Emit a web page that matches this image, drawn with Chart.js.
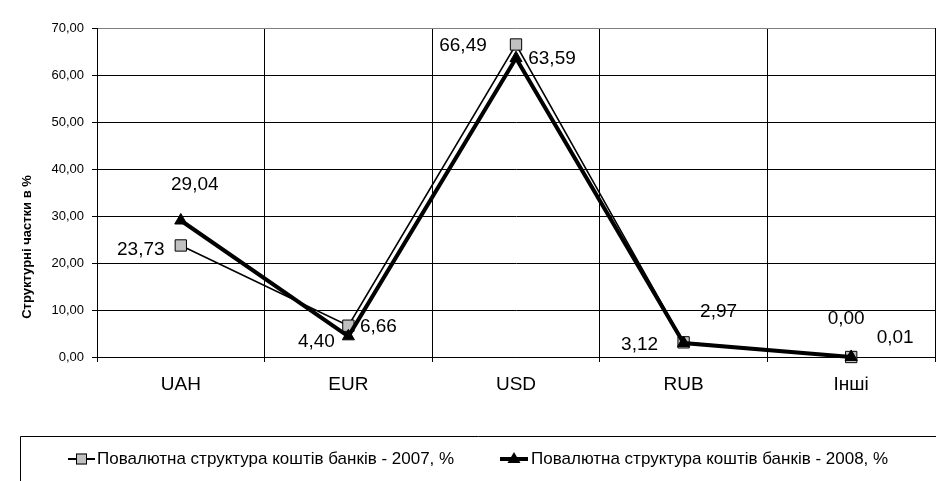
<!DOCTYPE html>
<html>
<head>
<meta charset="utf-8">
<script src="https://cdn.jsdelivr.net/npm/chart.js@4.4.1/dist/chart.umd.min.js"></script>
<style>
html,body{margin:0;padding:0;background:#fff;}
canvas{display:block;}
</style>
</head>
<body>
<canvas id="c" width="936" height="481"></canvas>
<script>
// ---- data ----
const categories = ['UAH', 'EUR', 'USD', 'RUB', 'Інші'];
const values2007 = [23.73, 6.66, 66.49, 3.12, 0.00];
const values2008 = [29.04, 4.40, 63.59, 2.97, 0.01];
const label2007 = 'Повалютна структура коштів банків - 2007, %';
const label2008 = 'Повалютна структура коштів банків - 2008, %';
const yTitle = 'Структурні частки в %';
const yMin = 0, yMax = 70, yStep = 10;

// ---- label placement (style) ----
const labelOffsets2007 = [[-40, 4], [30, 1], [-53, 1], [-44, 2], [-5, -38]];
const labelOffsets2008 = [[14, -36], [-32, 5], [36, 1], [35, -31], [44, -19]];

const FONT = 'Arial, "Liberation Sans", sans-serif';
const fmt = v => v.toFixed(2).replace('.', ',');

const decorPlugin = {
  id: 'decor',
  afterDatasetsDraw(chart) {
    const ctx = chart.ctx;
    ctx.save();
    ctx.font = '19px ' + FONT;
    ctx.fillStyle = '#000';
    ctx.textAlign = 'center';
    ctx.textBaseline = 'middle';
    const sets = [[0, values2007, labelOffsets2007], [1, values2008, labelOffsets2008]];
    sets.forEach(([di, vals, offs]) => {
      const meta = chart.getDatasetMeta(di);
      meta.data.forEach((pt, i) => {
        ctx.fillText(fmt(vals[i]), pt.x + offs[i][0], pt.y + offs[i][1]);
      });
    });
    ctx.restore();
  },
  afterDraw(chart) {
    const ctx = chart.ctx;
    ctx.save();
    // y title
    ctx.translate(27, 247);
    ctx.rotate(-Math.PI / 2);
    ctx.font = 'bold 13px ' + FONT;
    ctx.fillStyle = '#000';
    ctx.textAlign = 'center';
    ctx.textBaseline = 'middle';
    ctx.fillText(yTitle, 0, 0);
    ctx.restore();

    // legend box
    ctx.save();
    ctx.strokeStyle = '#000';
    ctx.lineWidth = 1;
    ctx.beginPath();
    ctx.moveTo(20.5, 481);
    ctx.lineTo(20.5, 436.5);
    ctx.lineTo(936, 436.5);
    ctx.stroke();

    const ly = 459;
    // item 1
    ctx.lineWidth = 2;
    ctx.beginPath();
    ctx.moveTo(68, ly); ctx.lineTo(95, ly); ctx.stroke();
    ctx.fillStyle = '#c0c0c0';
    ctx.lineWidth = 1;
    ctx.fillRect(76, ly - 5.5, 11, 11);
    ctx.strokeRect(76.5, ly - 5, 10, 10);
    // item 2
    ctx.lineWidth = 4;
    ctx.beginPath();
    ctx.moveTo(500, ly); ctx.lineTo(528, ly); ctx.stroke();
    ctx.fillStyle = '#000';
    ctx.beginPath();
    ctx.moveTo(514, ly - 7); ctx.lineTo(520.5, ly + 4); ctx.lineTo(507.5, ly + 4); ctx.closePath();
    ctx.fill();

    ctx.font = '17px ' + FONT;
    ctx.fillStyle = '#000';
    ctx.textAlign = 'left';
    ctx.textBaseline = 'middle';
    ctx.fillText(label2007, 97, ly);
    ctx.fillText(label2008, 531, ly);
    ctx.restore();
  }
};

new Chart(document.getElementById('c'), {
  type: 'line',
  data: {
    labels: categories,
    datasets: [
      {
        label: label2007,
        data: values2007,
        borderColor: '#000',
        borderWidth: 1.6,
        pointStyle: 'rect',
        pointRadius: 8,
        pointBackgroundColor: '#c0c0c0',
        pointBorderColor: '#000',
        pointBorderWidth: 1,
        tension: 0,
        clip: false,
        order: 2
      },
      {
        label: label2008,
        data: values2008,
        borderColor: '#000',
        borderWidth: 4,
        pointStyle: 'triangle',
        pointRadius: 7,
        pointBackgroundColor: '#000',
        pointBorderColor: '#000',
        pointBorderWidth: 1,
        tension: 0,
        clip: false,
        order: 1
      }
    ]
  },
  options: {
    responsive: false,
    animation: false,
    devicePixelRatio: 1,
    layout: { autoPadding: false, padding: { top: 28, left: 0, right: 1, bottom: 44 } },
    plugins: { legend: { display: false }, tooltip: { enabled: false } },
    scales: {
      x: {
        offset: true,
        grid: { offset: true, color: '#000', lineWidth: 1, tickLength: 5, tickColor: '#000' },
        border: { color: '#000', width: 1 },
        ticks: { color: '#000', font: { family: FONT, size: 19 }, padding: 11 },
        afterFit(scale) { scale.height = 80; }
      },
      y: {
        min: yMin, max: yMax,
        grid: {
          color: ctx => (ctx.tick && ctx.tick.value === yMax) ? '#808080' : '#000',
          tickColor: '#000',
          lineWidth: 1, tickLength: 5
        },
        border: { color: '#000', width: 1 },
        ticks: {
          stepSize: yStep,
          color: '#000',
          font: { family: FONT, size: 13 },
          padding: 8,
          callback: v => fmt(v)
        },
        afterFit(scale) { scale.width = 97; }
      }
    }
  },
  plugins: [decorPlugin]
});
</script>
</body>
</html>
